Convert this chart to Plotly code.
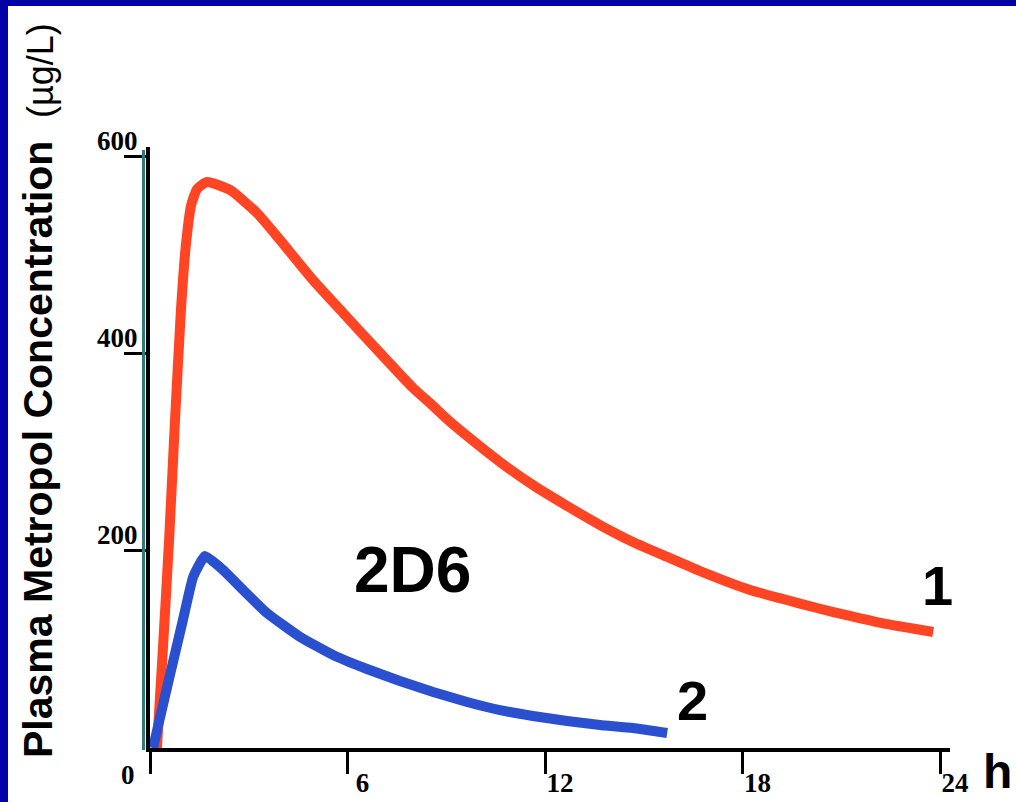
import plotly.graph_objects as go

# ---- data (hours, µg/L) ----
hours_1 = [0.21, 0.39, 0.58, 0.76, 0.94, 1.09, 1.25, 1.43, 1.73, 2.43, 3.25, 3.95, 4.95,
           5.98, 6.99, 7.99, 8.60, 9.02, 9.63, 10.63, 11.63, 12.67, 13.67, 14.67, 15.71,
           16.71, 18.23, 19.23, 20.26, 21.26, 22.27, 23.79]
conc_1 = [0, 99.5, 211, 333, 444.6, 510.5, 551, 567.4, 574.5, 566.4, 543, 515.6, 475,
          437.4, 400.9, 365.4, 347.1, 333.9, 316.7, 290.3, 266.9, 245.6, 226.3, 209.1, 193.9,
          179.6, 160.4, 151.2, 142.1, 134, 126.4, 117.7]

hours_2 = [0.09, 0.52, 1.00, 1.31, 1.67, 2.22, 2.83, 3.55, 4.56, 5.56, 6.59, 7.59, 8.60,
           9.63, 10.63, 11.63, 12.67, 13.67, 14.67, 15.71]
conc_2 = [0, 61.9, 129.9, 173.6, 194.9, 180.7, 160.4, 137, 112.7, 94.4, 80.2, 68, 56.8,
          46.7, 38.5, 32.5, 27.4, 23.4, 20.3, 15.2]

x_ticks = [0, 6, 12, 18, 24]
x_ticktext = ["", "6", "12", "18", "24"]
y_ticks = [200, 400, 600]
y_ticktext = ["200", "400", "600"]

W, H = 1016, 802
L, R, T, B = 150, 66, 147, 54
pw, ph = W - L - R, H - T - B


def px(xp):
    return (xp - L) / pw


def py(yp):
    return (H - B - yp) / ph


fig = go.Figure()
fig.add_trace(go.Scatter(x=hours_1, y=conc_1, mode="lines",
                         line=dict(color="#ff4524", width=10, shape="spline", smoothing=0.5),
                         showlegend=False))
fig.add_trace(go.Scatter(x=hours_2, y=conc_2, mode="lines",
                         line=dict(color="#2b50cf", width=10, shape="spline", smoothing=0.4),
                         showlegend=False))

serif = dict(family="Liberation Serif", size=27, color="black", weight=700)
sans = "Liberation Sans"

fig.update_layout(
    width=W, height=H,
    margin=dict(l=L, r=R, t=T, b=B, pad=0, autoexpand=False),
    paper_bgcolor="white", plot_bgcolor="white",
    xaxis=dict(range=[0, 24.3], showgrid=False, zeroline=False, automargin=False,
               showline=True, linecolor="black", linewidth=4,
               ticks="outside", ticklen=22, tickwidth=3, tickcolor="black",
               tickvals=x_ticks, ticktext=x_ticktext, tickfont=serif,
               ticklabelshift=15, ticklabelstandoff=-14),
    yaxis=dict(range=[0, 610], showgrid=False, zeroline=False, automargin=False,
               showline=True, linecolor="black", linewidth=4,
               ticks="outside", ticklen=22, tickwidth=3, tickcolor="black",
               tickvals=y_ticks, ticktext=y_ticktext, tickfont=serif,
               ticklabelshift=-16, ticklabelstandoff=-19),
    shapes=[
        dict(type="rect", xref="paper", yref="paper", x0=px(0), x1=px(W),
             y0=py(0), y1=py(6), fillcolor="#0202a6", line=dict(width=0)),
        dict(type="rect", xref="paper", yref="paper", x0=px(0), x1=px(8),
             y0=py(H), y1=py(0), fillcolor="#0202a6", line=dict(width=0)),
        dict(type="line", xref="paper", yref="paper", x0=px(143.5), x1=px(143.5),
             y0=py(750), y1=py(150), line=dict(color="#2e7a7a", width=3)),
    ],
    annotations=[
        dict(text="<b>Plasma Metropol Concentration</b>", textangle=-90,
             xref="paper", yref="paper", x=px(38), y=py(450),
             xanchor="center", yanchor="middle", showarrow=False,
             font=dict(family=sans, size=41, color="black")),
        dict(text="(µg/L)", textangle=-90,
             xref="paper", yref="paper", x=px(41), y=py(70),
             xanchor="center", yanchor="middle", showarrow=False,
             font=dict(family=sans, size=36, color="black")),
        dict(text="<b>2D6</b>", xref="paper", yref="paper", x=px(412), y=py(570),
             xanchor="center", yanchor="middle", showarrow=False,
             font=dict(family=sans, size=64, color="black")),
        dict(text="<b>1</b>", xref="paper", yref="paper", x=px(937), y=py(585),
             xanchor="center", yanchor="middle", showarrow=False,
             font=dict(family=sans, size=56, color="black")),
        dict(text="<b>2</b>", xref="paper", yref="paper", x=px(692), y=py(700),
             xanchor="center", yanchor="middle", showarrow=False,
             font=dict(family=sans, size=56, color="black")),
        dict(text="<b>h</b>", xref="paper", yref="paper", x=px(997), y=py(771),
             xanchor="center", yanchor="middle", showarrow=False,
             font=dict(family=sans, size=48, color="black")),
        dict(text="<b>0</b>", xref="paper", yref="paper", x=px(128), y=py(775),
             xanchor="center", yanchor="middle", showarrow=False,
             font=dict(family="Liberation Serif", size=27, color="black")),
    ],
)

fig.write_html("out.html", config={"displayModeBar": False},
               post_script="document.body.style.margin='0';document.body.style.overflow='hidden';")
